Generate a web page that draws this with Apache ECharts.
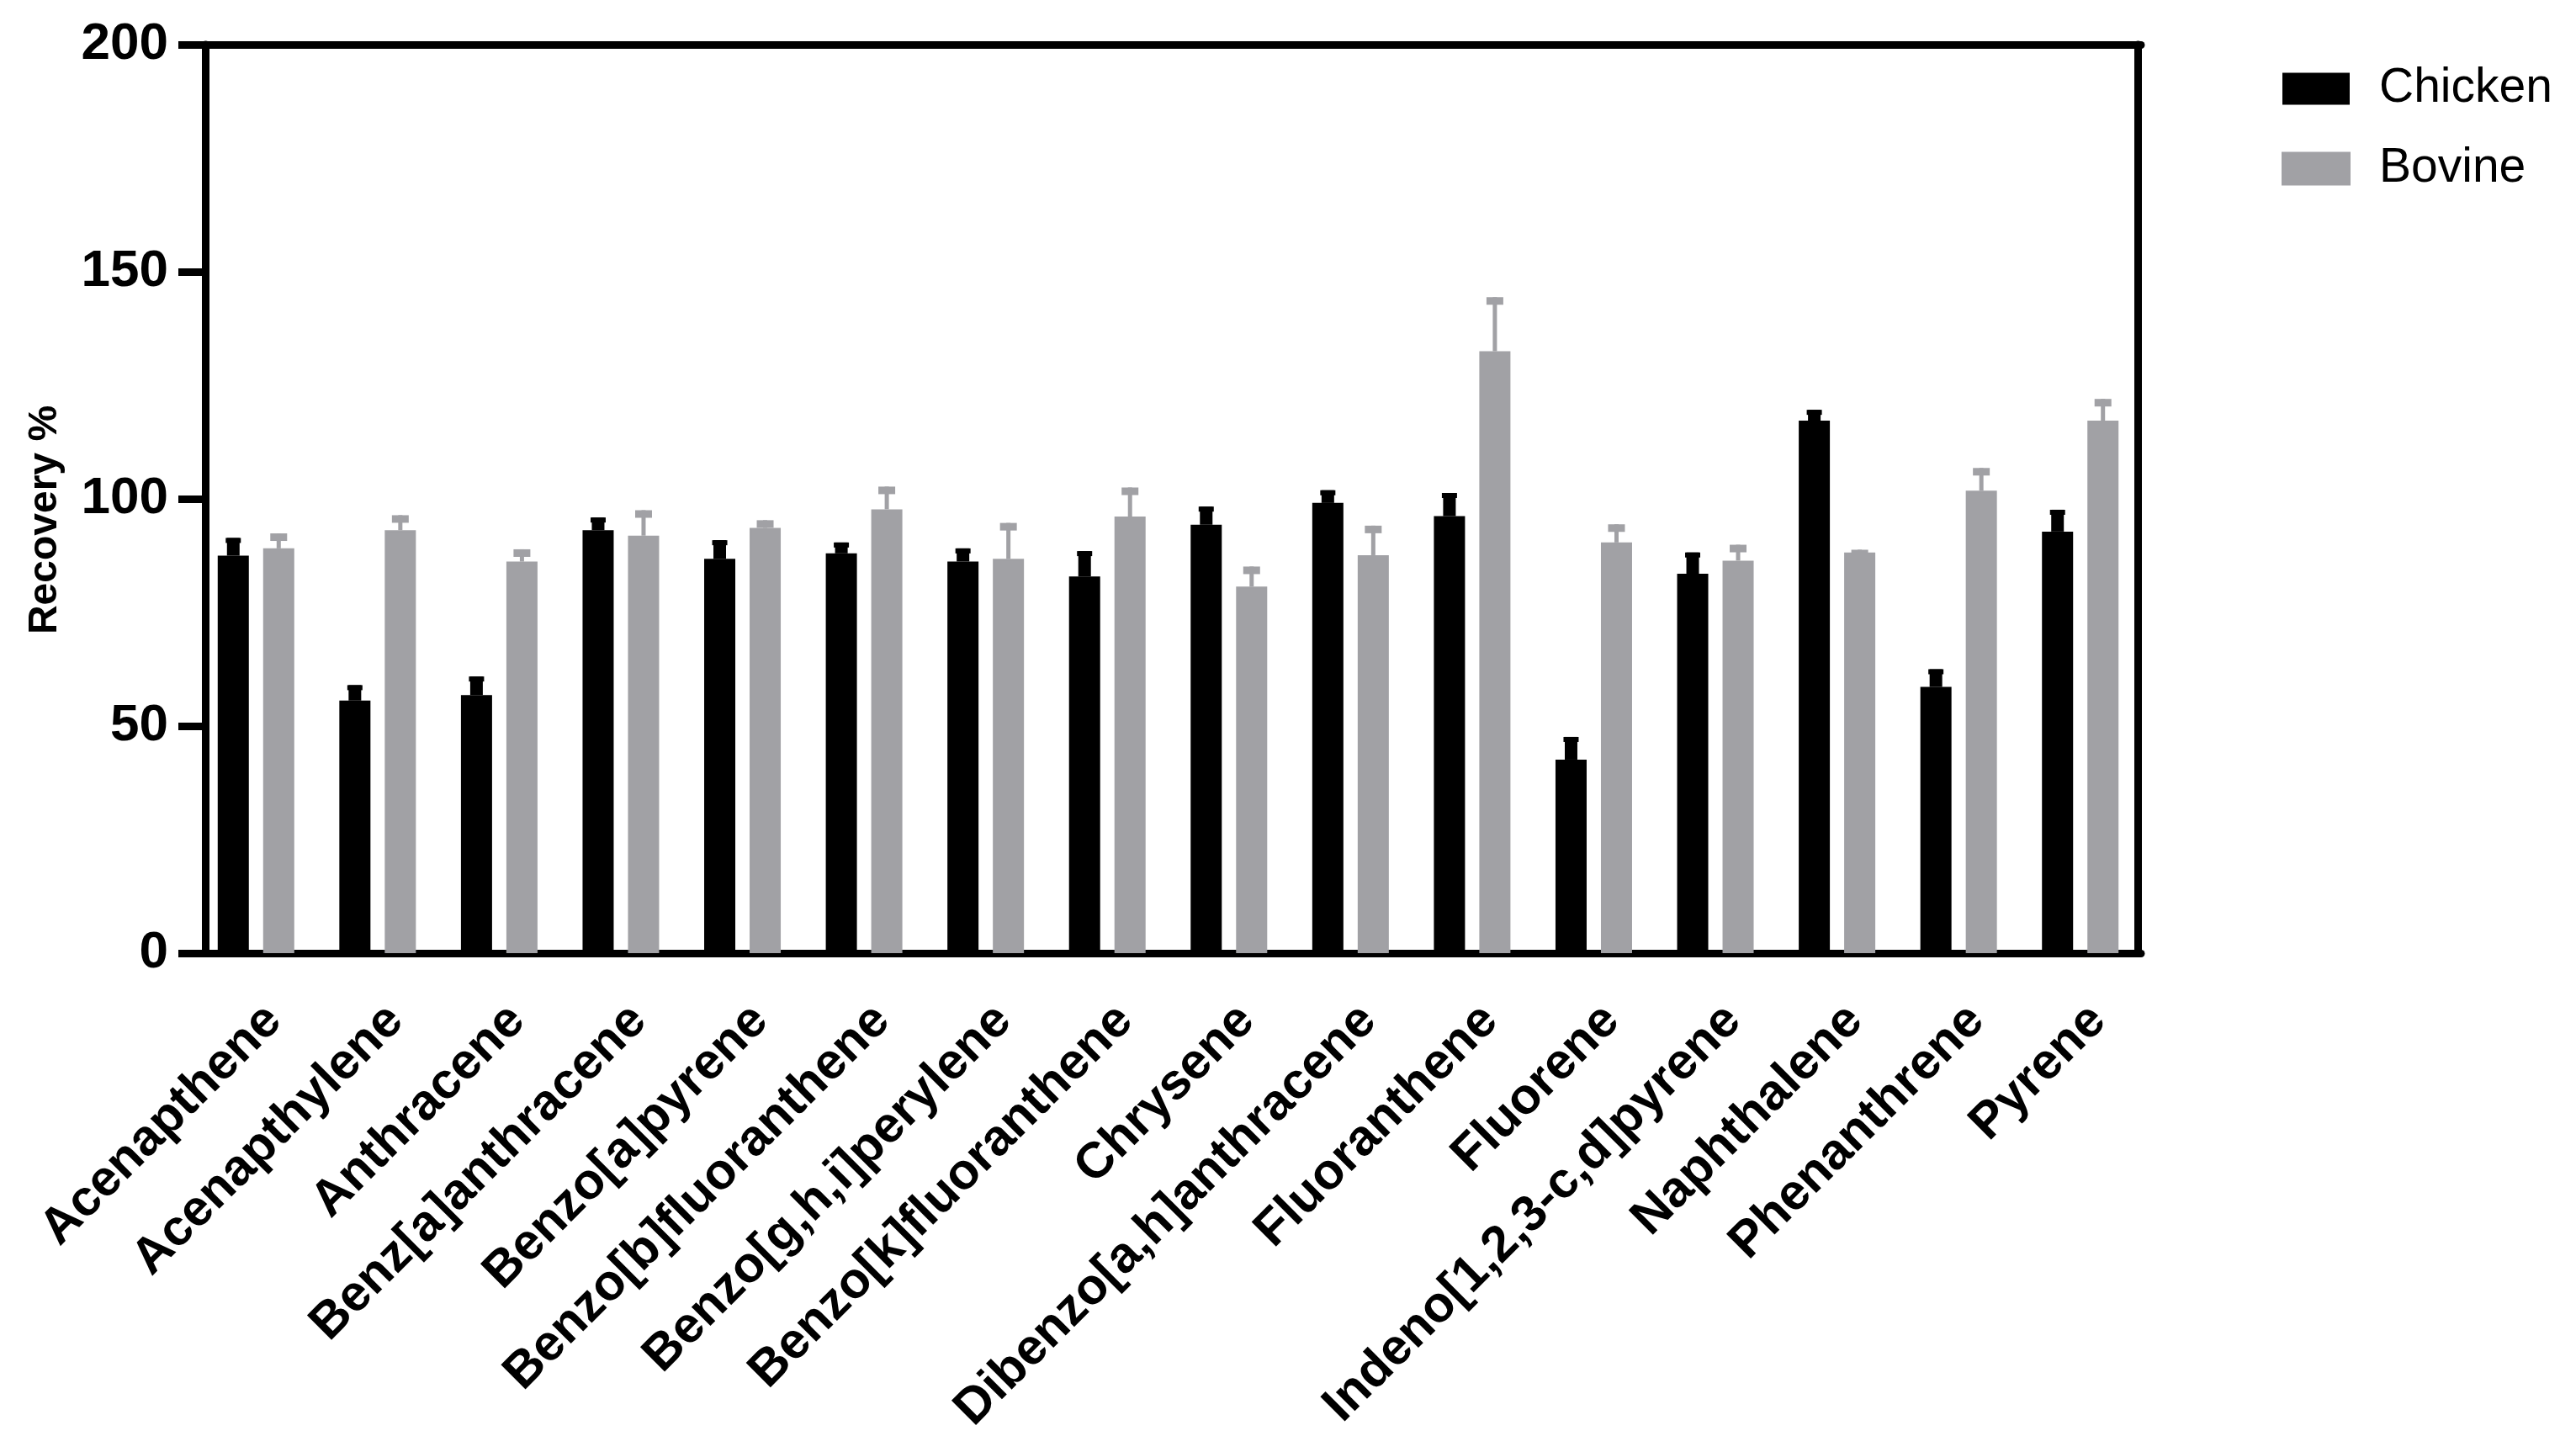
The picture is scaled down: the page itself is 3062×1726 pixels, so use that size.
<!DOCTYPE html>
<html><head><meta charset="utf-8">
<script src="https://cdn.jsdelivr.net/npm/echarts@6/dist/echarts.min.js"></script>
<style>html,body{margin:0;padding:0;background:#fff}#c{width:3062px;height:1726px}</style>
</head><body><div id="c"></div>
<script>
const categories = ['Acenapthene','Acenapthylene','Anthracene','Benz[a]anthracene','Benzo[a]pyrene',
  'Benzo[b]fluoranthene','Benzo[g,h,i]perylene','Benzo[k]fluoranthene','Chrysene',
  'Dibenzo[a,h]anthracene','Fluoranthene','Fluorene','Indeno[1,2,3-c,d]pyrene','Naphthalene',
  'Phenanthrene','Pyrene'];
const seriesNames = ['Chicken','Bovine'];
const chickenMean = [87.5,55.6,56.8,93.1,86.8,88.0,86.2,82.9,94.3,99.1,96.2,42.6,83.5,117.2,58.6,92.8];
const chickenSD   = [3.9,3.4,4.1,2.8,4.1,2.4,2.9,5.6,4.0,2.8,5.1,5.0,4.7,2.4,3.9,4.8];
const bovineMean  = [89.1,93.1,86.2,91.9,93.6,97.7,86.8,96.1,80.7,87.6,132.5,90.4,86.4,88.2,101.8,117.2];
const bovineSD    = [3.3,3.3,2.7,5.6,1.7,5.0,7.9,6.4,4.4,6.5,11.9,4.0,3.5,0.6,5.0,4.8];
const yMin = 0, yMax = 200, yStep = 50;
const yTitle = 'Recovery %';

const FONT = "'Liberation Sans', Arial, sans-serif";
const BLACK = '#000000', GREY = '#a1a1a5';
const BAR_W = 37, BAR_GAP_PX = 17;
const HALF_SHIFT = (BAR_W + BAR_GAP_PX) / 2;

function errRenderer(side, color, lineW, capW, capH) {
  return function (params, api) {
    const i = api.value(0), m = api.value(1), sd = api.value(2);
    const base = api.coord([i, m]);
    const top = api.coord([i, m + sd]);
    const x = base[0] + side * HALF_SHIFT;
    return {
      type: 'group',
      children: [
        { type: 'rect', shape: { x: x - lineW / 2, y: top[1], width: lineW, height: base[1] - top[1] }, style: { fill: color } },
        { type: 'rect', shape: { x: x - capW / 2, y: top[1], width: capW, height: capH }, style: { fill: color } }
      ]
    };
  };
}

const chart = echarts.init(document.getElementById('c'), null, { renderer: 'canvas' });
chart.setOption({
  animation: false,
  backgroundColor: '#ffffff',
  grid: { left: 232, right: 517, top: 53, bottom: 593, containLabel: false },
  legend: {
    data: seriesNames, orient: 'vertical', left: 2707, top: 72,
    itemWidth: 80, itemHeight: 38, itemGap: 38, icon: 'rect',
    textStyle: { fontFamily: FONT, fontSize: 57, color: '#000', padding: [0, 0, 0, 30] }
  },
  xAxis: [{
    type: 'category', data: categories, position: 'bottom',
    axisLine: { onZero: false, lineStyle: { color: BLACK, width: 9 } },
    axisTick: { alignWithLabel: true, length: 32, lineStyle: { color: BLACK, width: 9 } },
    axisLabel: { interval: 0, rotate: 45, margin: 50, verticalAlign: 'top', fontFamily: FONT, fontSize: 60, fontWeight: 'bold', color: BLACK },
    splitLine: { show: false }
  }, {
    type: 'category', data: categories, position: 'top',
    axisLine: { onZero: false, lineStyle: { color: BLACK, width: 9 } },
    axisTick: { show: false }, axisLabel: { show: false }, splitLine: { show: false }
  }],
  yAxis: [{
    type: 'value', min: yMin, max: yMax, interval: yStep, position: 'left', offset: -12,
    axisLine: { show: true, onZero: false, lineStyle: { color: BLACK, width: 9 } },
    axisTick: { show: true, length: 32, lineStyle: { color: BLACK, width: 9 } },
    axisLabel: { margin: 44, fontFamily: FONT, fontSize: 62, fontWeight: 'bold', color: BLACK },
    splitLine: { show: false },
    name: yTitle, nameLocation: 'middle', nameGap: 166, nameRotate: 90,
    nameTextStyle: { fontFamily: FONT, fontSize: 48, fontWeight: 'bold', color: BLACK, padding: [0, 50, 0, 0] }
  }, {
    type: 'value', min: yMin, max: yMax, interval: yStep, position: 'right', offset: -4,
    axisLine: { show: true, onZero: false, lineStyle: { color: BLACK, width: 9 } },
    axisTick: { show: false }, axisLabel: { show: false }, splitLine: { show: false }
  }],
  series: [{
    name: 'Chicken', type: 'bar', data: chickenMean, barWidth: BAR_W,
    barGap: (BAR_GAP_PX / BAR_W * 100) + '%',
    itemStyle: { color: BLACK }
  }, {
    name: 'Bovine', type: 'bar', data: bovineMean, barWidth: BAR_W,
    itemStyle: { color: GREY, borderColor: GREY, borderWidth: 2 }
  }, {
    name: 'Chicken SD', type: 'custom', z: 5,
    renderItem: errRenderer(-1, BLACK, 15, 18, 6),
    encode: { x: 0, y: 1 },
    data: categories.map((c, i) => [i, chickenMean[i], chickenSD[i]])
  }, {
    name: 'Bovine SD', type: 'custom', z: 5,
    renderItem: errRenderer(1, GREY, 5, 20, 9),
    encode: { x: 0, y: 1 },
    data: categories.map((c, i) => [i, bovineMean[i], bovineSD[i]])
  }]
});
</script></body></html>
